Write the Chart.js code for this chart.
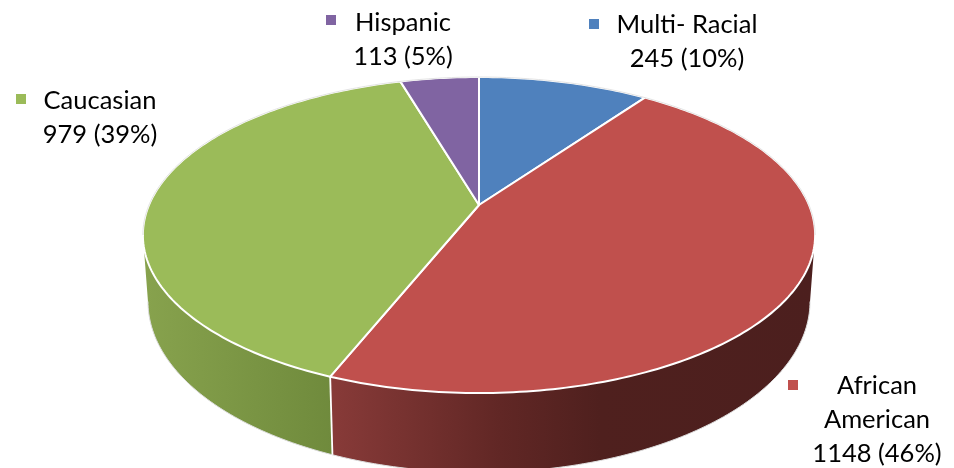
<!DOCTYPE html>
<html>
<head>
<meta charset="utf-8">
<title>Pie</title>
<script src="https://cdn.jsdelivr.net/npm/chart.js@4/dist/chart.umd.min.js"></script>
<style>
  html, body { margin: 0; padding: 0; background: #fff; overflow: hidden; }
  canvas { display: block; }
</style>
</head>
<body>
<canvas id="chart" width="954" height="468"></canvas>
<script>
const categories = ["Multi- Racial", "African American", "Caucasian", "Hispanic"];
const values = [245, 1148, 979, 113];
const percents = [10, 46, 39, 5];
const colors = ["#4f81bd", "#c0504d", "#9bbb59", "#8064a2"];

// where each label sits: text centre, first baseline, marker corner
const labelLayout = [
  { lines: ["Multi- Racial"], cx: 687, y: 33, mx: 589, my: 19 },
  { lines: ["African", "American"], cx: 877, y: 394, mx: 788, my: 380 },
  { lines: ["Caucasian"], cx: 100, y: 109, mx: 16, my: 94 },
  { lines: ["Hispanic"], cx: 403, y: 31, mx: 326, my: 15 }
];

// the two faces of the disc, as projections of a unit circle
const topFace = { x: 479, y: 205, a: 330, b: 152.3, k: 0.19 };
const lowFace = { x: 479, y: 269, a: 325, b: 164.8, k: 0.19 };

// t runs clockwise from twelve o'clock
const project = (face, t) => {
  const u = Math.sin(t), v = Math.cos(t), w = 1 + face.k * v;
  return [face.x + face.a * u / w, face.y - face.b * v / w];
};

const traceRim = (ctx, face, from, to) => {
  const steps = Math.max(2, Math.ceil(Math.abs(to - from) * 60));
  for (let i = 0; i <= steps; i++) {
    const p = project(face, from + (to - from) * i / steps);
    ctx.lineTo(p[0], p[1]);
  }
};

const tiltedPie = {
  id: "tiltedPie",
  beforeDatasetsDraw(chart) {
    const ctx = chart.ctx;
    const arcs = chart.getDatasetMeta(0).data;
    const frontFrom = Math.acos(-topFace.k);
    const frontTo = 2 * Math.PI - frontFrom;

    ctx.save();
    ctx.lineJoin = "round";

    // side wall, only the slices that reach the front
    const wallFill = [
      null,
      [[335, "#873a38"], [500, "#612725"], [600, "#4f201e"], [815, "#4c1f1e"]],
      [[146, "#87a24d"], [335, "#6f8a3c"]],
      null
    ];
    arcs.forEach((arc, i) => {
      if (!wallFill[i]) return;
      const from = Math.max(arc.startAngle + Math.PI / 2, frontFrom);
      const to = Math.min(arc.endAngle + Math.PI / 2, frontTo);
      const stops = wallFill[i];
      const x0 = stops[0][0], x1 = stops[stops.length - 1][0];
      const grad = ctx.createLinearGradient(x0, 0, x1, 0);
      stops.forEach(s => grad.addColorStop((s[0] - x0) / (x1 - x0), s[1]));
      ctx.beginPath();
      traceRim(ctx, topFace, from, to);
      traceRim(ctx, lowFace, to, from);
      ctx.closePath();
      ctx.fillStyle = grad;
      ctx.fill();
    });

    // faint outline round the wall and the white seam between slices
    ctx.beginPath();
    traceRim(ctx, lowFace, frontFrom, frontTo);
    ctx.strokeStyle = "#dcdcdc";
    ctx.lineWidth = 1;
    ctx.stroke();

    const seam = arcs[2].startAngle + Math.PI / 2;
    const a = project(topFace, seam), b = project(lowFace, seam);
    ctx.beginPath();
    ctx.moveTo(a[0], a[1]);
    ctx.lineTo(b[0], b[1]);
    ctx.strokeStyle = "#fff";
    ctx.lineWidth = 1.8;
    ctx.stroke();

    // top face
    arcs.forEach(arc => {
      const from = arc.startAngle + Math.PI / 2;
      const to = arc.endAngle + Math.PI / 2;
      ctx.beginPath();
      ctx.moveTo(topFace.x, topFace.y);
      traceRim(ctx, topFace, from, to);
      ctx.closePath();
      ctx.fillStyle = arc.options.backgroundColor;
      ctx.fill();
      ctx.strokeStyle = "#fff";
      ctx.lineWidth = 2;
      ctx.stroke();
    });
    ctx.beginPath();
    traceRim(ctx, topFace, frontTo, 2 * Math.PI + frontFrom);
    ctx.strokeStyle = "#dcdcdc";
    ctx.lineWidth = 0.8;
    ctx.stroke();

    // labels
    ctx.font = "25.5px Lato";
    ctx.textAlign = "center";
    ctx.textBaseline = "alphabetic";
    labelLayout.forEach((l, i) => {
      ctx.fillStyle = colors[i];
      ctx.fillRect(l.mx, l.my, 10, 10);
      ctx.fillStyle = "#000";
      const rows = l.lines.concat(values[i] + " (" + percents[i] + "%)");
      rows.forEach((row, r) => ctx.fillText(row, l.cx, l.y + r * 34));
    });
    ctx.restore();
    return false;
  }
};

new Chart(document.getElementById("chart"), {
  type: "pie",
  data: {
    labels: categories,
    datasets: [{ data: values, backgroundColor: colors }]
  },
  options: {
    responsive: false,
    animation: false,
    plugins: { legend: { display: false }, tooltip: { enabled: false } }
  },
  plugins: [tiltedPie]
});
</script>
</body>
</html>
